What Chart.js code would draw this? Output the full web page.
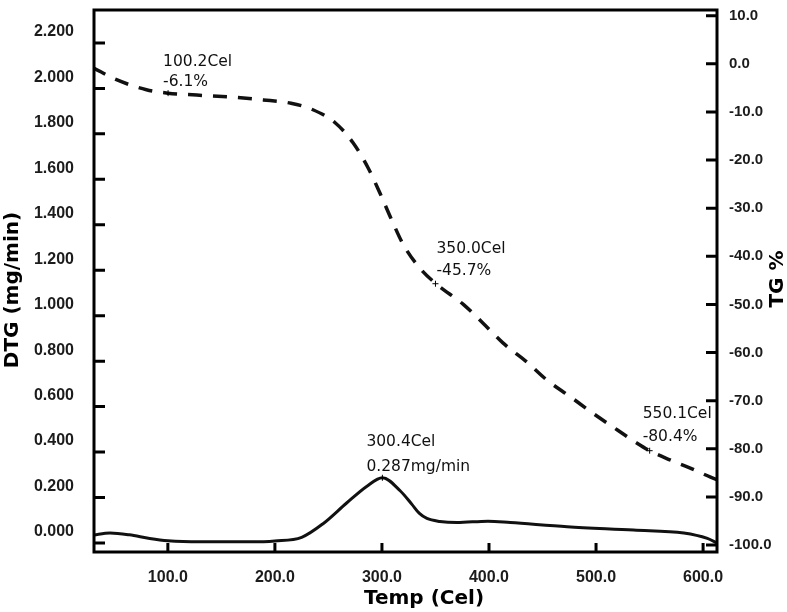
<!DOCTYPE html>
<html>
<head>
<meta charset="utf-8">
<script src="https://cdn.jsdelivr.net/npm/chart.js@4.4.1/dist/chart.umd.min.js"></script>
<style>
  html, body { margin: 0; padding: 0; background: #fff; }
  #wrap { width: 787px; height: 612px; }
</style>
</head>
<body>
<div id="wrap"><canvas id="myChart"></canvas></div>
<script>
// TG curve, right axis (%)
const tgTemp = [30, 52, 80, 100, 127, 158, 189, 215, 235, 256, 273, 287, 298, 309, 320, 336, 350,
    376, 394, 413, 436, 454, 476, 497, 520, 538, 550, 569, 588, 607, 613];
const tgValue = [-0.8, -3.3, -5.4, -6.1, -6.5, -6.9, -7.5, -8.2, -9.5, -12.2, -16.4, -21.6, -26.8, -32.4, -37.6, -42.6, -45.6,
    -50.0, -53.8, -58.0, -62.1, -65.7, -69.2, -72.6, -76.1, -78.8, -80.4, -82.3, -84.0, -85.9, -86.4];

// DTG curve, left axis (mg/min)
const dtgTemp = [30, 46, 64, 83, 100, 130, 177, 200, 225, 245, 267, 286, 300.4, 317, 328, 335, 342,
    354, 370, 399, 420, 473, 535, 582, 604, 613];
const dtgValue = [0.035, 0.044, 0.036, 0.020, 0.010, 0.005, 0.005, 0.009, 0.025, 0.085, 0.176, 0.250, 0.287, 0.230, 0.170, 0.130, 0.108,
    0.095, 0.090, 0.096, 0.090, 0.072, 0.057, 0.044, 0.020, 0.000];

const xTicks = [100, 200, 300, 400, 500, 600];
const dtgTicks = [0, 0.2, 0.4, 0.6, 0.8, 1.0, 1.2, 1.4, 1.6, 1.8, 2.0, 2.2];
const tgTicks = [10, 0, -10, -20, -30, -40, -50, -60, -70, -80, -90, -100];

// marked points
const noteTemp = [100.2, 350.0, 300.4, 550.1];
const noteValue = [-6.1, -45.7, 0.287, -80.4];
const noteAxis = ['y2', 'y2', 'y', 'y2'];
const noteLine1 = ['100.2Cel', '350.0Cel', '300.4Cel', '550.1Cel'];
const noteLine2 = ['-6.1%', '-45.7%', '0.287mg/min', '-80.4%'];

// label placement relative to the marked point: dx, dy line 1, dy line 2
const noteOffset = [[-5, -27, -7], [1, -31, -9], [-16, -32, -7], [-7, -33, -10]];

const tickFont = { family: 'Liberation Sans', size: 16, weight: 'bold' };
const textColor = '#1c1c1c';

const frame = {
    id: 'frame',
    afterDatasetsDraw(chart) {
        const { ctx, chartArea: a, scales } = chart;
        ctx.save();
        ctx.strokeStyle = '#000';
        ctx.lineWidth = 3;
        ctx.strokeRect(a.left, a.top, a.right - a.left, a.bottom - a.top);

        // inward tick marks
        ctx.beginPath();
        xTicks.forEach(v => {
            const p = scales.x.getPixelForValue(v);
            ctx.moveTo(p, a.bottom);
            ctx.lineTo(p, a.bottom - 9);
        });
        dtgTicks.forEach(v => {
            const p = scales.y.getPixelForValue(v);
            ctx.moveTo(a.left, p);
            ctx.lineTo(a.left + 11, p);
        });
        tgTicks.forEach(v => {
            const p = scales.y2.getPixelForValue(v);
            ctx.moveTo(a.right, p);
            ctx.lineTo(a.right - 11, p);
        });
        ctx.stroke();

        // marked points
        ctx.lineWidth = 1;
        ctx.font = '15.5px "DejaVu Sans"';
        ctx.fillStyle = '#111';
        ctx.textAlign = 'left';
        ctx.textBaseline = 'alphabetic';
        noteTemp.forEach((t, i) => {
            const px = scales.x.getPixelForValue(t);
            const py = scales[noteAxis[i]].getPixelForValue(noteValue[i]);
            ctx.beginPath();
            ctx.moveTo(px - 3, py); ctx.lineTo(px + 3, py);
            ctx.moveTo(px, py - 3); ctx.lineTo(px, py + 3);
            ctx.stroke();
            const o = noteOffset[i];
            ctx.fillText(noteLine1[i], px + o[0], py + o[1]);
            ctx.fillText(noteLine2[i], px + o[0], py + o[2]);
        });

        // axis titles
        ctx.font = 'bold 20px "DejaVu Sans"';
        ctx.fillStyle = '#000';
        ctx.textAlign = 'center';
        ctx.fillText('Temp (Cel)', 424, 604);

        ctx.save();
        ctx.translate(18, 290);
        ctx.rotate(-Math.PI / 2);
        ctx.fillText('DTG (mg/min)', 0, 0);
        ctx.restore();

        ctx.save();
        ctx.translate(783, 279);
        ctx.rotate(-Math.PI / 2);
        ctx.fillText('TG %', 0, 0);
        ctx.restore();

        ctx.restore();
    }
};

function noPad(s) {
    s.paddingTop = 0;
    s.paddingBottom = 0;
    s.paddingLeft = 0;
    s.paddingRight = 0;
}

const ctx = document.getElementById('myChart');
new Chart(ctx, {
    type: 'line',
    data: {
        datasets: [
            {
                label: 'TG',
                data: tgTemp.map((t, i) => ({ x: t, y: tgValue[i] })),
                yAxisID: 'y2',
                borderColor: '#111',
                borderWidth: 3.5,
                borderDash: [14, 11],
                pointRadius: 0,
                cubicInterpolationMode: 'monotone',
                fill: false
            },
            {
                label: 'DTG',
                data: dtgTemp.map((t, i) => ({ x: t, y: dtgValue[i] })),
                yAxisID: 'y',
                borderColor: '#111',
                borderWidth: 3,
                pointRadius: 0,
                cubicInterpolationMode: 'monotone',
                fill: false
            }
        ]
    },
    options: {
        responsive: true,
        maintainAspectRatio: false,
        animation: false,
        layout: { padding: { top: 10 } },
        plugins: {
            legend: { display: false },
            tooltip: { enabled: false }
        },
        scales: {
            x: {
                type: 'linear',
                min: 31,
                max: 613,
                afterBuildTicks: s => { s.ticks = xTicks.map(v => ({ value: v })); },
                afterFit: s => { s.height = 60; noPad(s); },
                grid: { display: false },
                border: { display: false },
                ticks: {
                    callback: v => v.toFixed(1),
                    font: tickFont,
                    color: textColor,
                    padding: 8,
                    maxRotation: 0,
                    autoSkip: false
                }
            },
            y: {
                position: 'left',
                min: -0.0396,
                max: 2.345,
                afterBuildTicks: s => { s.ticks = dtgTicks.map(v => ({ value: v })); },
                afterFit: s => { s.width = 94; noPad(s); },
                grid: { display: false },
                border: { display: false },
                ticks: {
                    callback: v => v.toFixed(3),
                    font: tickFont,
                    color: textColor,
                    padding: 12,
                    labelOffset: -11,
                    autoSkip: false
                }
            },
            y2: {
                position: 'right',
                min: -101.45,
                max: 11.18,
                afterBuildTicks: s => { s.ticks = tgTicks.map(v => ({ value: v })); },
                afterFit: s => { s.width = 70; noPad(s); },
                grid: { display: false },
                border: { display: false },
                ticks: {
                    callback: v => v.toFixed(1),
                    font: { family: 'Liberation Sans', size: 15, weight: 'bold' },
                    color: textColor,
                    padding: 4,
                    autoSkip: false
                }
            }
        }
    },
    plugins: [frame]
});
</script>
</body>
</html>
